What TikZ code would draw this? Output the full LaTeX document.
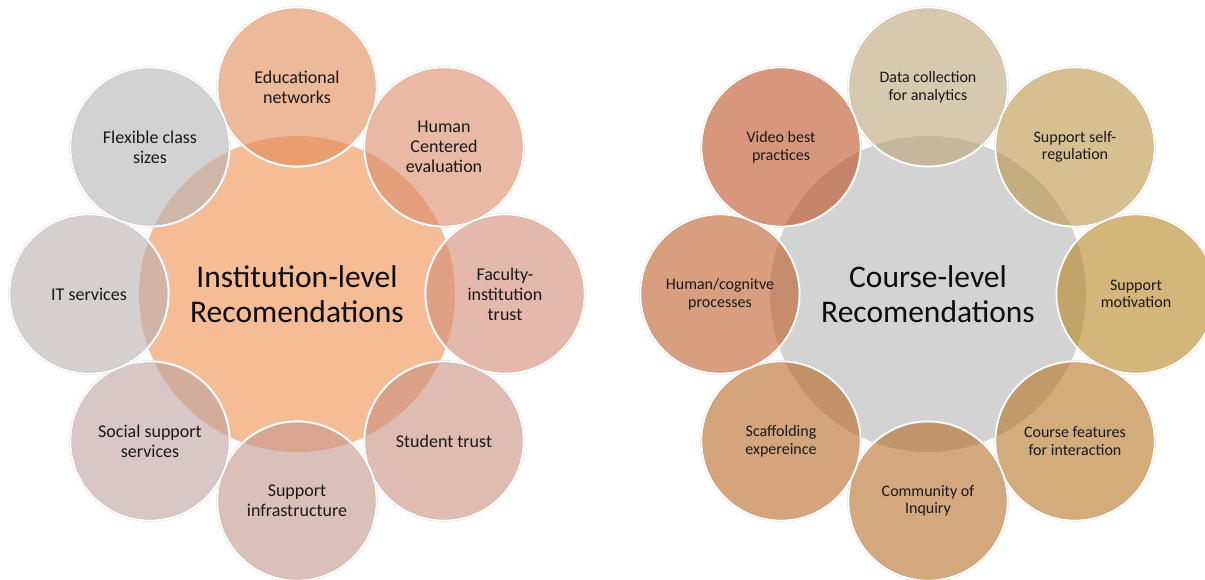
\documentclass[tikz,border=0pt]{standalone}
\usepackage{fontspec}
\setmainfont{Carlito}
\definecolor{instfill}{RGB}{245,188,150}
\definecolor{coursefill}{RGB}{211,211,211}
\definecolor{iedu}{RGB}{225,138,88}
\definecolor{ihum}{RGB}{218,138,105}
\definecolor{ifac}{RGB}{210,138,117}
\definecolor{istu}{RGB}{200,143,127}
\definecolor{iinf}{RGB}{195,150,140}
\definecolor{isoc}{RGB}{190,162,160}
\definecolor{iits}{RGB}{185,175,175}
\definecolor{iflx}{RGB}{180,180,180}
\definecolor{cdat}{RGB}{187,165,123}
\definecolor{cslf}{RGB}{187,150,73}
\definecolor{cmot}{RGB}{185,133,33}
\definecolor{cfea}{RGB}{183,117,37}
\definecolor{ccom}{RGB}{183,110,40}
\definecolor{cscf}{RGB}{183,103,38}
\definecolor{chum}{RGB}{188,93,43}
\definecolor{cvid}{RGB}{190,82,38}
\tikzset{
  hub/.style={circle,minimum size=316pt,inner sep=0pt,align=center,
    text=black!95,font=\fontsize{31.5}{35}\selectfont},
  isat/.style={circle,minimum size=159pt,inner sep=0pt,align=center,
    fill opacity=0.6,text opacity=1,text=black!90,
    draw=white,line width=1.6pt,
    preaction={draw=black!12,line width=2.6pt},
    font=\fontsize{18}{20}\selectfont},
  csat/.style={isat,font=\fontsize{16}{17.5}\selectfont}
}
\begin{document}
\begin{tikzpicture}[x=1pt,y=-1pt]
\useasboundingbox (0,0) rectangle (1205,580);
\coordinate (L) at (297,294);
\coordinate (L1) at (297,87);
\coordinate (L2) at (444,147);
\coordinate (L3) at (505,294);
\coordinate (L4) at (444,441);
\coordinate (L5) at (297,501);
\coordinate (L6) at (150,441);
\coordinate (L7) at (89,294);
\coordinate (L8) at (150,147);
\coordinate (R) at (928,294);
\coordinate (R1) at (928,87);
\coordinate (R2) at (1075,147);
\coordinate (R3) at (1136,294);
\coordinate (R4) at (1075,441);
\coordinate (R5) at (928,501);
\coordinate (R6) at (781,441);
\coordinate (R7) at (720,294);
\coordinate (R8) at (781,147);
\node[hub,fill=instfill] (inst) at (L) {Institution-level\\Recomendations};
\node[isat,fill=iedu] (edunet) at (L1) {Educational\\networks};
\node[isat,fill=ihum] (humeval) at (L2) {Human\\Centered\\evaluation};
\node[isat,fill=ifac] (factrust) at (L3) {Faculty-\\institution\\trust};
\node[isat,fill=istu] (stutrust) at (L4) {Student trust};
\node[isat,fill=iinf] (infra) at (L5) {Support\\infrastructure};
\node[isat,fill=isoc] (social) at (L6) {Social support\\services};
\node[isat,fill=iits] (itserv) at (L7) {IT services};
\node[isat,fill=iflx] (flexsize) at (L8) {Flexible class\\sizes};
\node[hub,fill=coursefill] (course) at (R) {Course-level\\Recomendations};
\node[csat,fill=cdat] (datacoll) at (R1) {Data collection\\for analytics};
\node[csat,fill=cslf] (selfreg) at (R2) {Support self-\\regulation};
\node[csat,fill=cmot] (motiv) at (R3) {Support\\motivation};
\node[csat,fill=cfea] (features) at (R4) {Course features\\for interaction};
\node[csat,fill=ccom] (coi) at (R5) {Community of\\Inquiry};
\node[csat,fill=cscf] (scaffold) at (R6) {Scaffolding\\expereince};
\node[csat,fill=chum] (cognitive) at (R7) {Human/cognitve\\processes};
\node[csat,fill=cvid] (video) at (R8) {Video best\\practices};
\end{tikzpicture}
\end{document}
